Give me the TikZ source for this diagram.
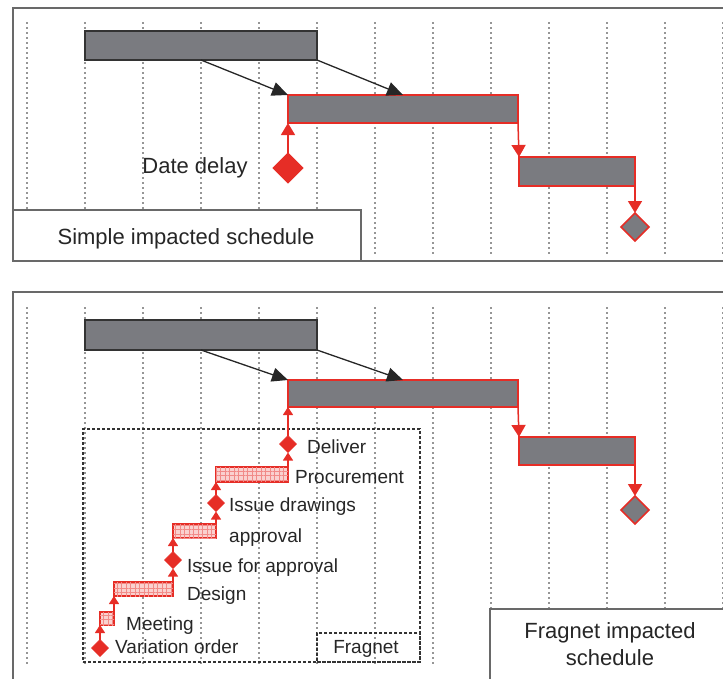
\documentclass[tikz,border=0pt]{standalone}
\usepackage{fontspec}
\setmainfont{Liberation Sans}
\usetikzlibrary{arrows.meta,shapes.geometric,patterns.meta}

\definecolor{barfill}{RGB}{122,123,128}
\definecolor{impred}{RGB}{230,45,38}
\definecolor{framegray}{RGB}{105,105,105}
\definecolor{gridgray}{RGB}{150,150,150}

\begin{document}
\begin{tikzpicture}[x=1pt,y=-1pt,
  panel/.style={draw=framegray,line width=2.5pt},
  gridline/.style={draw=gridgray,line width=1.3pt,dash pattern=on 2pt off 3pt},
  barbase/.style={rectangle,anchor=north west,inner sep=0pt,outer sep=0pt},
  plainbar/.style={barbase,fill=barfill,draw=black!80,line width=1.4pt},
  impbar/.style={barbase,fill=barfill,draw=impred,line width=1.6pt},
  fragbar/.style={barbase,draw=impred,line width=1.2pt,fill=impred!22,
    postaction={pattern={Hatch[angle=0,distance=4.5pt,line width=0.8pt]},pattern color=impred!55}},
  milestone/.style={diamond,aspect=1,inner sep=0pt,outer sep=0pt,minimum size=#1},
  delaydiamond/.style={milestone=30pt,fill=impred,draw=impred,line width=1pt},
  enddiamond/.style={milestone=28pt,fill=barfill,draw=impred,line width=1.6pt},
  smalldiamond/.style={milestone=17pt,fill=impred,draw=impred,line width=0.6pt},
  logic/.style={draw=black!85,line width=1.3pt,-{Triangle[length=16pt,width=14pt]}},
  impact/.style={draw=impred,line width=1.5pt,-{Triangle[length=12pt,width=14pt]}},
  fraglink/.style={draw=impred,line width=1.2pt,-{Triangle[length=8pt,width=10pt]}},
  labelbox/.style={rectangle,anchor=north west,inner sep=0pt,outer sep=0pt,fill=white,draw=framegray,line width=2pt},
  dashbox/.style={rectangle,anchor=north west,inner sep=0pt,outer sep=0pt,draw=black!80,line width=1.4pt,dash pattern=on 3pt off 2pt},
  biglbl/.style={inner sep=0pt,font=\fontsize{22}{26}\selectfont,text=black!85},
  fraglbl/.style={inner sep=0pt,anchor=base west,font=\fontsize{19}{22}\selectfont,text=black!85}
]
\useasboundingbox (0,0) rectangle (723,678);
\clip (0,0) rectangle (723,678);

% ---------- upper panel: simple impacted schedule ----------
\foreach \gx in {27,85,...,723} {
  \draw[gridline] (\gx,22) -- (\gx,254);
}
\draw[panel] (13,8) rectangle (740,261);

\node[plainbar,minimum width=232pt,minimum height=29pt] (a1) at (85,31) {};
\node[impbar,minimum width=230pt,minimum height=28pt] (a2) at (288,95) {};
\node[impbar,minimum width=116pt,minimum height=29pt] (a3) at (519,157) {};
\node[delaydiamond] (dd) at (288,168) {};
\node[enddiamond] (ae) at (635,227) {};

\draw[logic] (a1.south) -- (a2.north west);
\draw[logic] (a1.south east) -- (a2.north);
\draw[impact] (dd.north) -- (a2.south west);
\draw[impact] (a2.south east) -- (a3.north west);
\draw[impact] (a3.south east) -- (ae.north);

\node[biglbl,anchor=base] (ddl) at (195,173) {Date delay};

\node[labelbox,minimum width=348pt,minimum height=51pt] (sbox) at (13,210) {};
\node[biglbl,anchor=base] (stitle) at (186,244) {Simple impacted schedule};

% ---------- lower panel: fragnet impacted schedule ----------
\foreach \gx in {27,85,...,723} {
  \draw[gridline] (\gx,307) -- (\gx,664);
}
\draw[panel] (13,292) rectangle (740,700);

\node[plainbar,minimum width=232pt,minimum height=30pt] (b1) at (85,320) {};
\node[impbar,minimum width=230pt,minimum height=27pt] (b2) at (288,380) {};
\node[impbar,minimum width=116pt,minimum height=28pt] (b3) at (519,437) {};
\node[enddiamond] (be) at (635,510) {};

\draw[logic] (b1.south) -- (b2.north west);
\draw[logic] (b1.south east) -- (b2.north);
\draw[impact] (b2.south east) -- (b3.north west);
\draw[impact] (b3.south east) -- (be.north);

% fragnet boundary
\node[dashbox,minimum width=337pt,minimum height=233pt] (fbox) at (83,429) {};
\node[dashbox,minimum width=103pt,minimum height=29pt] (ftag) at (317,633) {};
\node[fraglbl,anchor=base] (ftagl) at (366,653) {Fragnet};

% fragnet activities and milestones
\node[smalldiamond] (dv) at (288,444) {};
\node[fragbar,minimum width=72pt,minimum height=15pt] (pr) at (216,467) {};
\node[smalldiamond] (idw) at (216,503) {};
\node[fragbar,minimum width=43pt,minimum height=14pt] (ap) at (173,524) {};
\node[smalldiamond] (ifa) at (173,560) {};
\node[fragbar,minimum width=59pt,minimum height=14pt] (ds) at (114,582) {};
\node[fragbar,minimum width=14pt,minimum height=13pt] (mt) at (100,612) {};
\node[smalldiamond] (vo) at (100,648) {};

\draw[fraglink] (dv.north) -- (b2.south west);
\draw[fraglink] (pr.north east) -- (dv.south);
\draw[fraglink] (idw.north) -- (pr.south west);
\draw[fraglink] (ap.north east) -- (idw.south);
\draw[fraglink] (ifa.north) -- (ap.south west);
\draw[fraglink] (ds.north east) -- (ifa.south);
\draw[fraglink] (mt.north east) -- (ds.south west);
\draw[fraglink] (vo.north) -- (mt.south west);

\node[fraglbl] (dvl)  at (307,453) {Deliver};
\node[fraglbl] (prl)  at (295,483) {Procurement};
\node[fraglbl] (idwl) at (229,511) {Issue drawings};
\node[fraglbl] (apl)  at (229,542) {approval};
\node[fraglbl] (ifal) at (187,572) {Issue for approval};
\node[fraglbl] (dsl)  at (187,600) {Design};
\node[fraglbl] (mtl)  at (126,630) {Meeting};
\node[fraglbl] (vol)  at (115,653) {Variation order};

\node[labelbox,minimum width=260pt,minimum height=100pt] (fisbox) at (490,609) {};
\node[biglbl,anchor=base] (fis1) at (610,638) {Fragnet impacted};
\node[biglbl,anchor=base] (fis2) at (610,665) {schedule};
\end{tikzpicture}
\end{document}
